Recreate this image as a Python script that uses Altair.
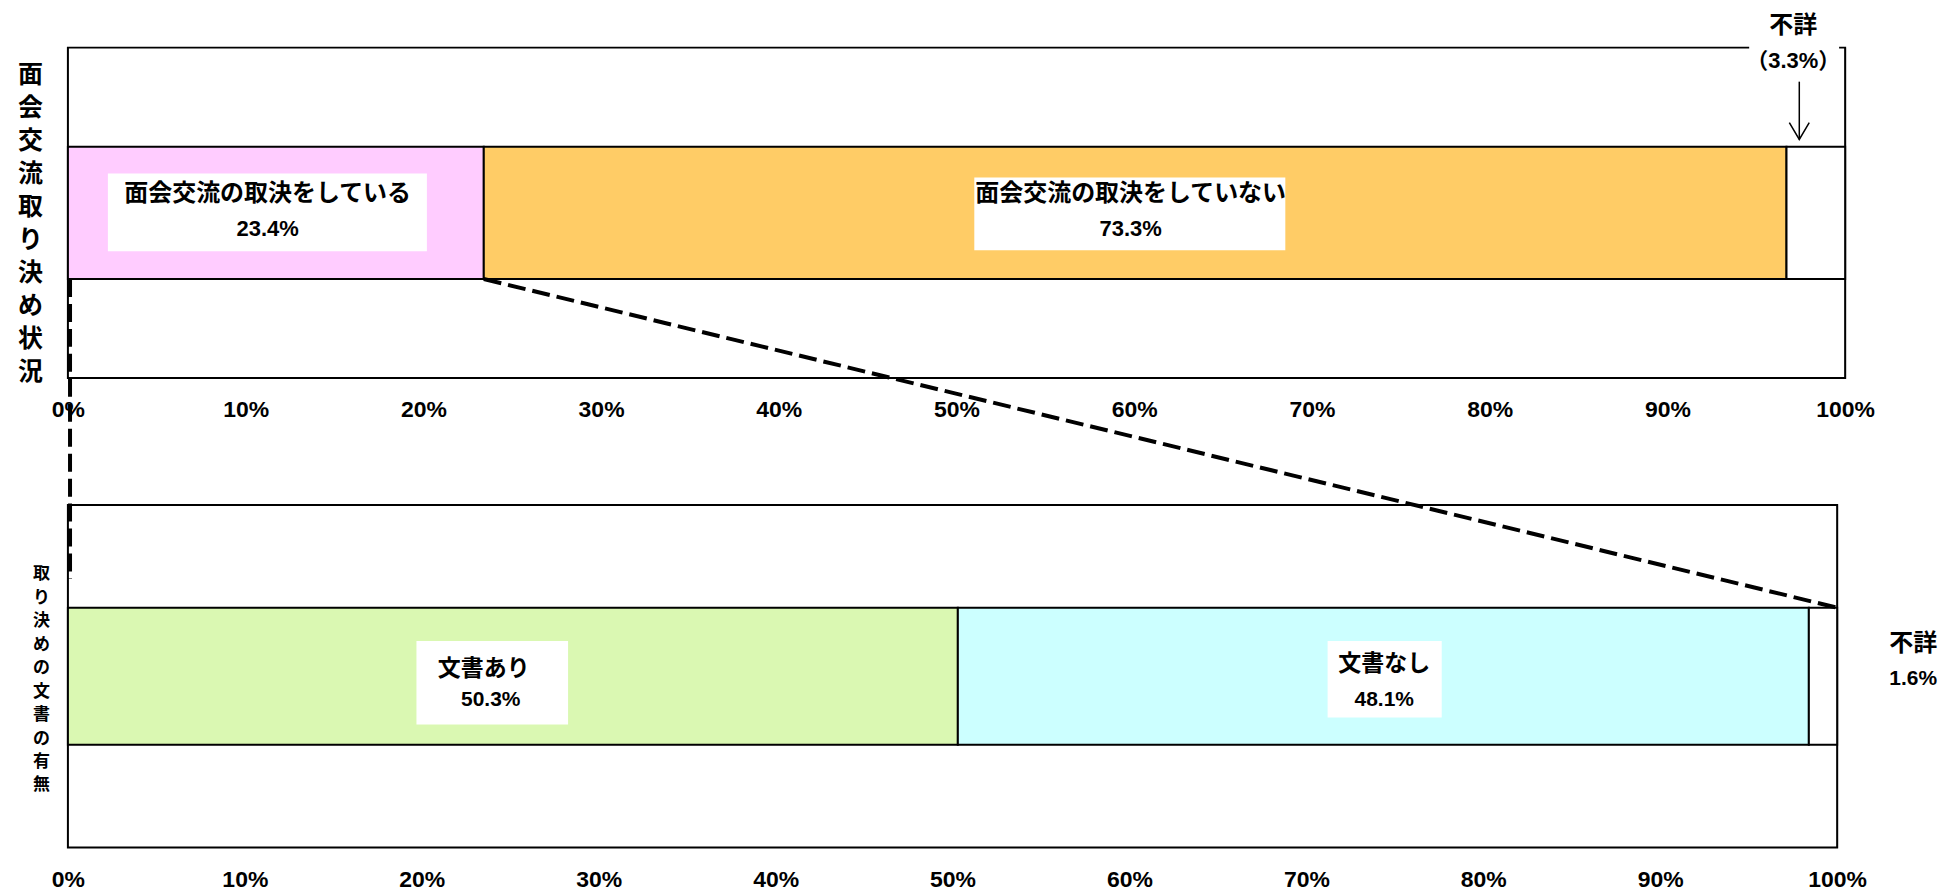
import altair as alt
import pandas as pd

# ---------------- data ----------------
top_categories = ["面会交流の取決をしている", "面会交流の取決をしていない", "不詳"]
top_values = [23.4, 73.3, 3.3]
bottom_categories = ["文書あり", "文書なし", "不詳"]
bottom_values = [50.3, 48.1, 1.6]
tick_values = [0, 10, 20, 30, 40, 50, 60, 70, 80, 90, 100]
top_title = "面会交流取り決め状況"
bottom_title = "取り決めの文書の有無"

# ---------------- style / layout ----------------
top_colors = ["#FFCCFF", "#FFCC66", "#FFFFFF"]
bottom_colors = ["#DAF8B2", "#CCFFFF", "#FFFFFF"]
FONT = "Liberation Sans, Arial, Noto Sans CJK JP, sans-serif"
TOP_W, TOP_H = 1780, 331
BOT_W, BOT_H = 1772, 343
GAP = 127
BAR_LO, BAR_HI = 0.3, 0.7

xs_top = alt.Scale(domain=[0, 100], nice=False, zero=False)
xs_bot = alt.Scale(domain=[0, 100], nice=False, zero=False)
ys = alt.Scale(domain=[0, 1], nice=False, zero=False)


def segments(cats, vals):
    rows, s = [], 0.0
    for c, v in zip(cats, vals):
        rows.append({"category": c, "start": round(s, 2), "end": round(s + v, 2), "value": v})
        s += v
    return pd.DataFrame(rows)


def x_axis(pad):
    return alt.Axis(values=tick_values, labelExpr="datum.value + '%'", grid=True,
                    gridColor="#A0A0A0", gridWidth=1, ticks=False, tickSize=0, domain=False,
                    labelFont=FONT, labelFontSize=23, labelFontWeight="bold", labelColor="black",
                    labelPadding=pad, labelFlush=False, labelOverlap=False,
                    labelBaseline="middle", title=None)


def y_axis(title, size, lh, tx, ty):
    return alt.Axis(title=list(title), titleAngle=0, titleX=tx, titleY=ty, titleAlign="center",
                    titleBaseline="middle", titleFont=FONT, titleFontSize=size,
                    titleFontWeight="bold", titleLineHeight=lh, titleColor="black",
                    labels=False, ticks=False, domain=False, grid=False)


def text_layer(texts, xs):
    return alt.Chart(texts).mark_text(font=FONT, fontWeight="bold", color="black",
                                      align="center", baseline="middle").encode(
        x=alt.X("x:Q", scale=xs), y=alt.Y("y:Q", scale=ys), text="text:N",
        size=alt.Size("size:Q", scale=None))


def panel(df, cats, colors, xs, xaxis, yaxis, boxes, texts, extra):
    frame = alt.Chart(pd.DataFrame({"a": [0]})).mark_rect(
        fill="white", stroke="black", strokeWidth=2).encode(
        x=alt.X(datum=0, scale=xs, axis=xaxis), x2=alt.datum(100),
        y=alt.Y(datum=0, scale=ys, axis=yaxis), y2=alt.datum(1))
    bars = alt.Chart(df).mark_rect(stroke="black", strokeWidth=2).encode(
        x=alt.X("start:Q", scale=xs), x2="end:Q",
        y=alt.Y(datum=BAR_LO, scale=ys), y2=alt.datum(BAR_HI),
        fill=alt.Fill("category:N", scale=alt.Scale(domain=cats, range=colors), legend=None))
    box = alt.Chart(boxes).mark_rect(fill="white").encode(
        x=alt.X("x:Q", scale=xs), x2="x2:Q", y=alt.Y("y:Q", scale=ys), y2="y2:Q")
    return alt.layer(frame, bars, box, text_layer(texts, xs), *extra)


# ---------------- top panel ----------------
df_top = segments(top_categories, top_values)
top_boxes = pd.DataFrame({"x": [2.25, 51.0], "x2": [20.2, 68.5],
                          "y": [0.384, 0.387], "y2": [0.619, 0.607]})
top_texts = pd.DataFrame({
    "text": [top_categories[0], f"{top_values[0]}%", top_categories[1], f"{top_values[1]}%"],
    "x": [11.24, 11.24, 59.8, 59.8],
    "y": [0.556, 0.450, 0.556, 0.450],
    "size": [24, 22, 24, 22]})
top_note = pd.DataFrame({
    "text": [top_categories[2], f"（{top_values[2]}%）"],
    "x": [97.08, 97.08],
    "y": [1.066, 0.958],
    "size": [24, 22]})
cover = alt.Chart(pd.DataFrame({"x": [94.6], "x2": [99.66], "y": [0.92], "y2": [1.02]})).mark_rect(
    fill="white").encode(x=alt.X("x:Q", scale=xs_top), x2="x2:Q",
                         y=alt.Y("y:Q", scale=ys), y2="y2:Q")
arrow = pd.DataFrame({"id": ["shaft", "shaft", "head", "head", "head"],
                      "o": [0, 1, 0, 1, 2],
                      "x": [97.42, 97.42, 96.86, 97.42, 97.98],
                      "y": [0.897, 0.722, 0.773, 0.722, 0.773]})
arrow_layer = alt.Chart(arrow).mark_line(color="black", strokeWidth=1.5).encode(
    x=alt.X("x:Q", scale=xs_top), y=alt.Y("y:Q", scale=ys), detail="id:N", order="o:Q")

top = panel(df_top, top_categories, top_colors, xs_top, x_axis(31),
            y_axis(top_title, 25, 33, -38, 27), top_boxes, top_texts,
            [cover, text_layer(top_note, xs_top), arrow_layer]).properties(width=TOP_W, height=TOP_H)

# ---------------- bottom panel ----------------
df_bot = segments(bottom_categories, bottom_values)
bot_boxes = pd.DataFrame({"x": [19.7, 71.2], "x2": [28.27, 77.65],
                          "y": [0.359, 0.379], "y2": [0.603, 0.603]})
bot_texts = pd.DataFrame({
    "text": [bottom_categories[0], f"{bottom_values[0]}%", bottom_categories[1],
             f"{bottom_values[1]}%", bottom_categories[2], f"{bottom_values[2]}%"],
    "x": [23.5, 23.9, 74.4, 74.4, 104.3, 104.3],
    "y": [0.522, 0.429, 0.536, 0.431, 0.595, 0.493],
    "size": [23, 21, 23, 21, 24, 21]})

y_link = 1 + (GAP + BAR_LO * TOP_H) / BOT_H  # bottom edge of the upper bar, in lower-panel units
x_link = top_values[0] * TOP_W / BOT_W
links = pd.DataFrame({"id": ["v", "v", "d", "d"], "o": [0, 1, 0, 1],
                      "x": [0.12, 0.12, x_link, 100],
                      "y": [y_link, 0.784, y_link, BAR_HI]})
link_layer = alt.Chart(links).mark_line(color="black", strokeWidth=4, strokeDash=[18, 7],
                                        clip=False).encode(
    x=alt.X("x:Q", scale=xs_bot), y=alt.Y("y:Q", scale=ys), detail="id:N", order="o:Q")

bottom = panel(df_bot, bottom_categories, bottom_colors, xs_bot, x_axis(32),
               y_axis(bottom_title, 17, 23.5, -27, 69), bot_boxes, bot_texts,
               [link_layer]).properties(width=BOT_W, height=BOT_H)

chart = alt.vconcat(top, bottom, spacing=GAP, bounds="flush").resolve_scale(
    x="independent", y="independent", fill="independent").configure_view(
    stroke="transparent").properties(
    padding={"left": 8, "top": 4, "right": 0, "bottom": 0}, background="white")

chart.save("out.html", embed_options={"renderer": "svg", "actions": False})
